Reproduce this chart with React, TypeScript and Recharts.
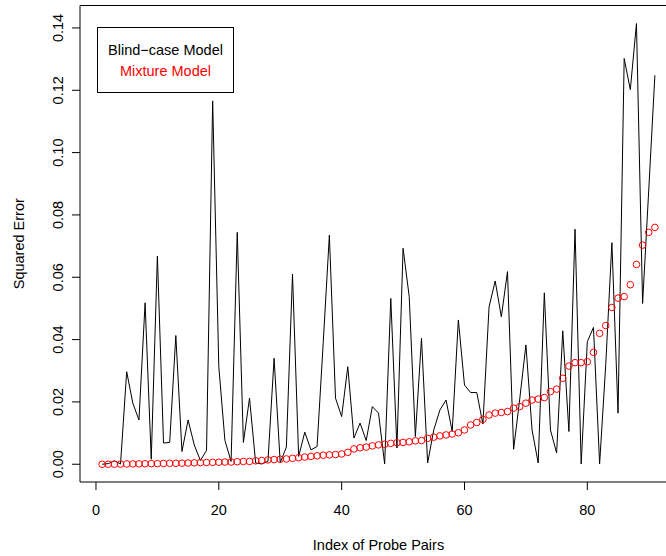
import React from "react";
import {
  ComposedChart,
  Line,
  XAxis,
  YAxis,
  ReferenceArea,
  Legend,
} from "recharts";

// squared error per probe pair
const blindCase = [
  0, 0.0002, 0.0011, 0.0001, 0.0297, 0.0196, 0.0142, 0.0518, 0.0016, 0.0668,
  0.0068, 0.007, 0.0413, 0.0041, 0.0142, 0.0062, 0.0012, 0.0044, 0.1166, 0.0313,
  0.0076, 0.0009, 0.0744, 0.007, 0.0212, 0.0004, 0.0001, 0.0009, 0.034, 0.0005,
  0.0055, 0.061, 0.0025, 0.0103, 0.0046, 0.0057, 0.039, 0.0735, 0.0212, 0.0153,
  0.0313, 0.0084, 0.0132, 0.0076, 0.0185, 0.0164, 0.0001, 0.0532, 0.0052, 0.0693,
  0.0538, 0.0089, 0.0404, 0.0004, 0.011, 0.0174, 0.0206, 0.0105, 0.0463, 0.0254,
  0.023, 0.023, 0.0129, 0.0505, 0.0588, 0.0473, 0.0618, 0.0048, 0.021, 0.0383,
  0.011, 0.0004, 0.055, 0.011, 0.0036, 0.0428, 0.0105, 0.0754, 0.0001, 0.0393,
  0.0439, 0.0001, 0.032, 0.0711, 0.0164, 0.1302, 0.1202, 0.1414, 0.0516, 0.088,
  0.1248,
];

const mixture = [
  0, 0, 0.00002, 0.00005, 0.0001, 0.0001, 0.00012, 0.00015, 0.0002, 0.0002,
  0.00025, 0.0003, 0.0003, 0.00035, 0.0004, 0.00045, 0.0005, 0.00055, 0.0006, 0.00065,
  0.0007, 0.0007, 0.0008, 0.0009, 0.0009, 0.0011, 0.0012, 0.0014, 0.0015, 0.0016,
  0.0017, 0.0019, 0.0021, 0.0023, 0.0025, 0.0027, 0.0029, 0.003, 0.0031, 0.0033,
  0.0038, 0.0049, 0.0053, 0.0055, 0.0059, 0.0062, 0.0064, 0.0067, 0.0069, 0.007,
  0.0072, 0.0075, 0.0076, 0.0083, 0.0087, 0.0091, 0.0094, 0.0097, 0.0101, 0.011,
  0.0126, 0.0134, 0.0144, 0.0158, 0.0164, 0.0166, 0.0169, 0.018, 0.0185, 0.0196,
  0.0206, 0.0209, 0.0214, 0.0233, 0.0241, 0.0276, 0.0315, 0.0326, 0.0326, 0.0329,
  0.0359, 0.042, 0.0445, 0.0503, 0.0533, 0.0538, 0.0576, 0.0641, 0.0703, 0.0744,
  0.076,
];

const xTicks = [0, 20, 40, 60, 80];
const yTicks = [0, 0.02, 0.04, 0.06, 0.08, 0.1, 0.12, 0.14];

const rows = blindCase.map((v, i) => ({
  index: i + 1,
  blind: v,
  mixture: mixture[i],
}));

const FONT = '"Liberation Sans", Arial, Helvetica, sans-serif';
const FS = 14.5;
const X_DOMAIN = [-2.6, 94.6];
const Y_DOMAIN = [-0.0057, 0.1472];

function XTick({ x, y, payload }: any) {
  return (
    <text x={x} y={y + 25} textAnchor="middle" fontFamily={FONT} fontSize={FS} fill="#000">
      {payload.value}
    </text>
  );
}

function YTick({ y, payload }: any) {
  const bx = 63;
  return (
    <text
      x={bx}
      y={y}
      transform={`rotate(-90, ${bx}, ${y})`}
      textAnchor="middle"
      fontFamily={FONT}
      fontSize={FS}
      fill="#000"
    >
      {Number(payload.value).toFixed(2)}
    </text>
  );
}

function YTitle({ viewBox }: any) {
  const cy = viewBox.y + viewBox.height / 2;
  const cx = 24;
  return (
    <text
      x={cx}
      y={cy}
      transform={`rotate(-90, ${cx}, ${cy})`}
      textAnchor="middle"
      fontFamily={FONT}
      fontSize={FS}
      fill="#000"
    >
      Squared Error
    </text>
  );
}

function XTitle({ viewBox }: any) {
  return (
    <text
      x={viewBox.x + viewBox.width / 2}
      y={550}
      textAnchor="middle"
      fontFamily={FONT}
      fontSize={FS}
      fill="#000"
    >
      Index of Probe Pairs
    </text>
  );
}

function LegendBox() {
  const line: React.CSSProperties = {
    position: "absolute",
    left: 0,
    width: "100%",
    textAlign: "center",
    lineHeight: 1,
    fontFamily: FONT,
    fontSize: FS,
  };
  return (
    <div style={{ position: "relative", width: "100%", height: "100%" }}>
      <div style={{ ...line, top: 14.7, color: "#000" }}>Blind−case Model</div>
      <div style={{ ...line, top: 35.7, color: "#ff0000" }}>Mixture Model</div>
    </div>
  );
}

export default function App() {
  return (
    <div
      style={{
        position: "absolute",
        left: 0,
        top: 0,
        width: 666,
        height: 556,
        overflow: "hidden",
        background: "#fff",
      }}
    >
      <ComposedChart
        width={690}
        height={556}
        data={rows}
        margin={{ top: 5.5, right: 13, bottom: 0, left: 0 }}
      >
        <XAxis
          dataKey="index"
          type="number"
          domain={X_DOMAIN}
          allowDataOverflow
          ticks={xTicks}
          axisLine={false}
          tickLine={{ stroke: "#000" }}
          tickSize={8}
          tickMargin={0}
          height={74}
          tick={<XTick />}
          label={<XTitle />}
        />
        <YAxis
          type="number"
          domain={Y_DOMAIN}
          allowDataOverflow
          ticks={yTicks}
          axisLine={false}
          tickLine={{ stroke: "#000" }}
          tickSize={8}
          tickMargin={0}
          width={80}
          tick={<YTick />}
          label={<YTitle />}
        />
        <ReferenceArea
          x1={X_DOMAIN[0]}
          x2={X_DOMAIN[1]}
          y1={Y_DOMAIN[0]}
          y2={Y_DOMAIN[1]}
          fill="none"
          stroke="#000"
          strokeWidth={1}
        />
        <Line
          type="linear"
          dataKey="blind"
          stroke="#000"
          strokeWidth={1}
          dot={false}
          activeDot={false}
          isAnimationActive={false}
        />
        <Line
          type="linear"
          dataKey="mixture"
          stroke="none"
          dot={{ r: 3.3, stroke: "#ff0000", strokeWidth: 1, fill: "none" }}
          activeDot={false}
          isAnimationActive={false}
        />
        <Legend
          layout="horizontal"
          verticalAlign="middle"
          align="center"
          content={<LegendBox />}
          wrapperStyle={{
            left: 97,
            top: 27,
            width: 137,
            height: 66,
            border: "1px solid #000",
            boxSizing: "border-box",
            background: "#fff",
          }}
        />
      </ComposedChart>
    </div>
  );
}
